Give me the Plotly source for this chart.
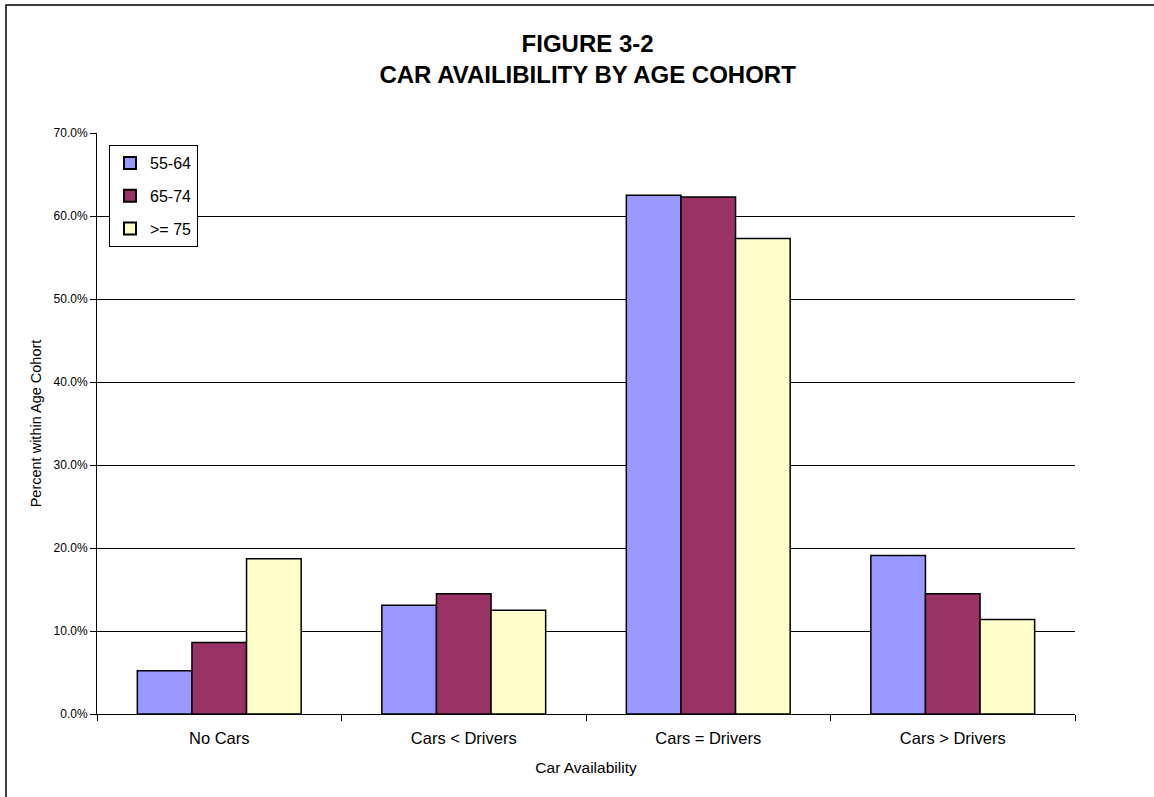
import plotly.graph_objects as go

categories = ["No Cars", "Cars < Drivers", "Cars = Drivers", "Cars > Drivers"]
series_names = ["55-64", "65-74", ">= 75"]
vals_55_64 = [5.2, 13.1, 62.5, 19.1]
vals_65_74 = [8.6, 14.5, 62.3, 14.5]
vals_75_up = [18.7, 12.5, 57.3, 11.4]
y_ticks = [0, 10, 20, 30, 40, 50, 60, 70]
y_tick_labels = ["0.0%", "10.0%", "20.0%", "30.0%", "40.0%", "50.0%", "60.0%", "70.0%"]

colors = ["#9999FF", "#993366", "#FFFFCC"]
all_vals = [vals_55_64, vals_65_74, vals_75_up]

fig = go.Figure()
for name, vals, col in zip(series_names, all_vals, colors):
    fig.add_trace(go.Bar(
        x=categories, y=vals, name=name, legendgroup=name,
        marker=dict(color=col, line=dict(color="black", width=1.5)),
    ))

W, H = 1154, 797
ml, mr, mt, mb = 97, 79, 133, 83
pw, ph = W - ml - mr, H - mt - mb

def px_x(x):
    return (x - ml) / pw

def px_y(y):
    return (H - mb - y) / ph

fig.update_layout(
    width=W, height=H,
    margin=dict(l=ml, r=mr, t=mt, b=mb),
    paper_bgcolor="white", plot_bgcolor="white",
    font=dict(family="Arial, Liberation Sans, sans-serif", color="black"),
    title=dict(
        text="<b>FIGURE 3-2<br>CAR AVAILIBILITY BY AGE COHORT</b>",
        x=px_x(595), xanchor="center", y=1 - 52 / H, yanchor="middle",
        font=dict(size=24, color="black"),
    ),
    barmode="group", bargap=0.33, bargroupgap=0,
    showlegend=True,
    legend=dict(
        x=px_x(109), y=px_y(145), xanchor="left", yanchor="top",
        bgcolor="white", bordercolor="black", borderwidth=1,
        font=dict(size=16), tracegroupgap=9,
        itemsizing="constant", itemwidth=30,
    ),
    xaxis=dict(
        title=dict(text="Car Availability", font=dict(size=15.5), standoff=16),
        tickfont=dict(size=16.5), showline=True, linecolor="black", linewidth=1,
        ticks="outside", tickson="boundaries", ticklen=6, tickcolor="black",
        ticklabelstandoff=9,
        showgrid=False,
    ),
    yaxis=dict(
        title=dict(text="Percent within Age Cohort", font=dict(size=14.5), standoff=8),
        range=[0, 70], tickvals=y_ticks, ticktext=y_tick_labels,
        tickfont=dict(size=12), showline=True, linecolor="black", linewidth=1,
        ticks="outside", ticklen=6, tickcolor="black",
        showgrid=True, gridcolor="black", gridwidth=1, zeroline=False,
    ),
    shapes=[dict(
        type="rect", xref="paper", yref="paper",
        x0=px_x(6), x1=px_x(1170), y0=px_y(820), y1=px_y(5),
        line=dict(color="black", width=1.5), fillcolor="rgba(0,0,0,0)", layer="below",
    )],
)

fig.write_html("out.html")
